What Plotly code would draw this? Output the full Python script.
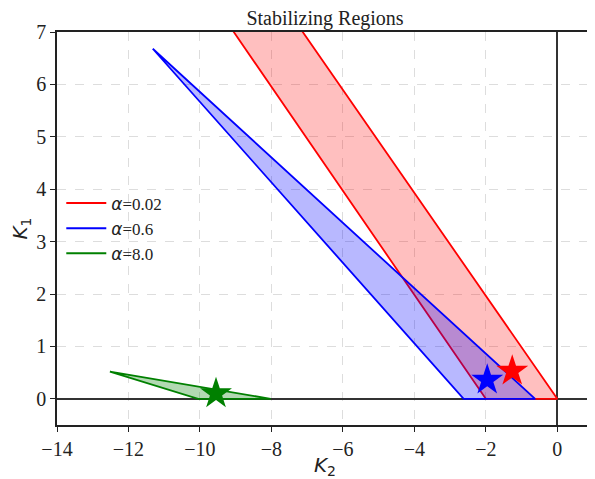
import plotly.graph_objects as go

# Region vertices (K2, K1)
red_k2 = [-2.0, 0.0, -8.14, -10.06]
red_k1 = [0.0, 0.0, 8.0, 8.0]
blue_k2 = [-11.32, -2.62, -0.62]
blue_k1 = [6.68, 0.0, 0.0]
green_k2 = [-12.52, -10.05, -8.02]
green_k1 = [0.52, 0.0, 0.0]

# Star points
star_k2 = [-1.26, -1.96, -9.55]
star_k1 = [0.53, 0.36, 0.10]

labels = ["0.02", "0.6", "8.0"]
colors = ["red", "blue", "green"]
fills = ["rgba(255,0,0,0.25)", "rgba(0,0,255,0.28)", "rgba(0,128,0,0.3)"]

xticks = [-14, -12, -10, -8, -6, -4, -2, 0]
yticks = [0, 1, 2, 3, 4, 5, 6, 7]

fig = go.Figure()

regions = [(red_k2, red_k1), (blue_k2, blue_k1), (green_k2, green_k1)]
for (xs, ys), c, f in zip(regions, colors, fills):
    fig.add_trace(go.Scatter(x=xs + [xs[0]], y=ys + [ys[0]], mode="lines", fill="toself",
                             fillcolor=f, line=dict(color=c, width=1.8), showlegend=False,
                             hoverinfo="skip"))

for i, c in enumerate(colors):
    fig.add_trace(go.Scatter(x=[star_k2[i]], y=[star_k1[i]], mode="markers",
                             marker=dict(symbol="star", size=24, color=c, line=dict(width=0)),
                             showlegend=False))

for lab, c in zip(labels, colors):
    fig.add_trace(go.Scatter(x=[None], y=[None], mode="lines", line=dict(color=c, width=2),
                             name='<span style="font-family:DejaVu Sans;font-style:italic">α</span>=' + lab))

serif = "Liberation Serif"
fig.update_layout(
    width=587, height=471,
    margin=dict(l=49, r=2, t=24, b=54, autoexpand=False),
    paper_bgcolor="white", plot_bgcolor="white",
    title=dict(text="Stabilizing Regions", x=0.5, xref="paper", xanchor="center",
               y=0.979, yref="container", yanchor="middle",
               font=dict(family=serif, size=20, color="#222")),
    font=dict(family=serif, size=19, color="#222"),
    legend=dict(x=0.008, y=0.50, xanchor="left", yanchor="middle", bgcolor="rgba(255,255,255,0)",
                font=dict(family=serif, size=17, color="#222"), itemwidth=40, tracegroupgap=6),
    xaxis=dict(range=[-14, 1], tickvals=xticks, ticktext=["\u2212" + str(-t) if t < 0 else str(t) for t in xticks],
               automargin=False,
               showline=True, mirror=True, linecolor="#222", linewidth=1.5,
               ticks="outside", ticklen=5, tickcolor="#222",
               showgrid=True, gridcolor="#dddddd", griddash="dash", gridwidth=1,
               zeroline=True, zerolinecolor="#333", zerolinewidth=2,
               title=dict(text="<i>K</i><sub>2</sub>", font=dict(family="DejaVu Sans", size=20), standoff=8),
               tickfont=dict(family=serif, size=20)),
    yaxis=dict(range=[-0.5, 7], tickvals=yticks, automargin=False,
               showline=True, mirror=True, linecolor="#222", linewidth=1.5,
               ticks="outside", ticklen=5, tickcolor="#222",
               showgrid=True, gridcolor="#dddddd", griddash="dash", gridwidth=1,
               zeroline=True, zerolinecolor="#333", zerolinewidth=2,
               title=dict(text="<i>K</i><sub>1</sub>", font=dict(family="DejaVu Sans", size=20), standoff=5),
               tickfont=dict(family=serif, size=20)),
)

fig.write_html("out.html")
